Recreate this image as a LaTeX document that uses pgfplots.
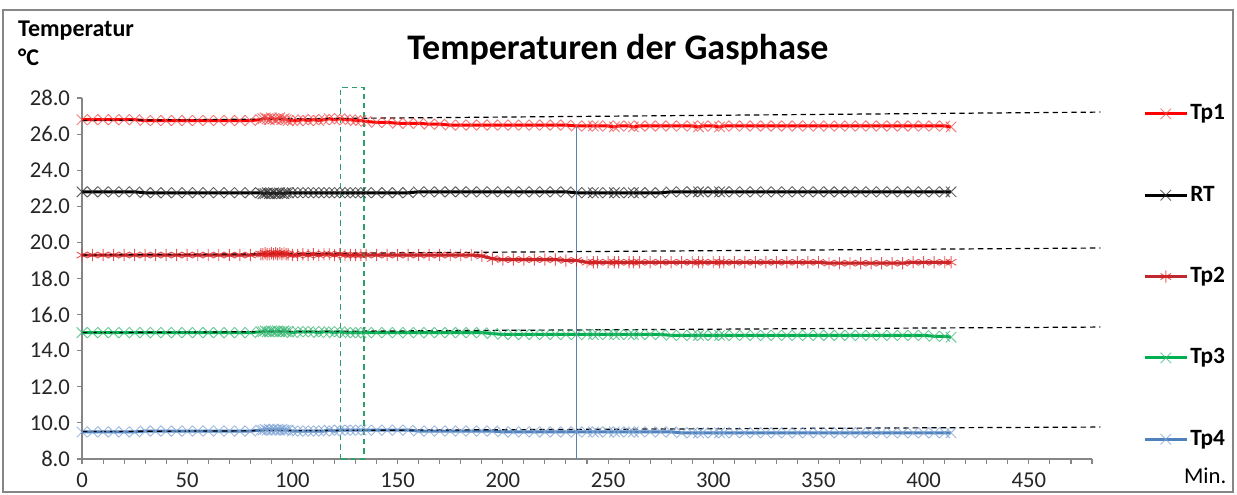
\documentclass[border=0pt]{standalone}
\usepackage{pgfplots}
\pgfplotsset{compat=1.18}
\usepackage{pgfplotstable}
\usepackage{fontspec}
\setmainfont{Carlito}
\usetikzlibrary{plotmarks}

\definecolor{tponeL}{HTML}{FF0000}
\definecolor{tponeM}{HTML}{F05050}
\definecolor{rtL}{HTML}{000000}
\definecolor{rtM}{HTML}{303030}
\definecolor{tptwoL}{HTML}{C0282D}
\definecolor{tptwoM}{HTML}{E02020}
\definecolor{tpthreeL}{HTML}{00B050}
\definecolor{tpthreeM}{HTML}{40B878}
\definecolor{tpfourL}{HTML}{4F81BD}
\definecolor{tpfourM}{HTML}{7FA4D6}
\definecolor{axgray}{HTML}{868686}
\definecolor{rectgreen}{HTML}{2E9E6A}

\pgfplotstableread{
t     tp1    rt     tp2    tp3    tp4
0     26.80  22.80  19.30  15.00  9.50
5     26.80  22.80  19.30  15.00  9.50
10    26.80  22.80  19.30  15.00  9.50
15    26.80  22.80  19.30  15.00  9.50
20    26.80  22.80  19.30  15.00  9.50
25    26.80  22.80  19.30  15.00  9.50
30    26.75  22.75  19.30  15.00  9.55
35    26.75  22.75  19.30  15.00  9.55
40    26.75  22.75  19.30  15.00  9.55
45    26.75  22.75  19.30  15.00  9.55
50    26.75  22.75  19.30  15.00  9.55
55    26.75  22.75  19.30  15.00  9.55
60    26.75  22.75  19.30  15.00  9.55
65    26.75  22.75  19.30  15.00  9.55
70    26.75  22.75  19.30  15.00  9.55
75    26.75  22.75  19.30  15.00  9.55
80    26.75  22.75  19.30  15.00  9.55
85    26.80  22.75  19.35  15.05  9.60
86    26.85  22.70  19.35  15.05  9.60
87    26.90  22.70  19.40  15.10  9.65
88    26.85  22.75  19.35  15.05  9.60
89    26.80  22.70  19.35  15.05  9.65
90    26.90  22.70  19.40  15.10  9.60
91    26.85  22.75  19.35  15.05  9.65
92    26.80  22.70  19.40  15.05  9.60
93    26.85  22.70  19.35  15.10  9.65
94    26.90  22.75  19.40  15.05  9.60
95    26.80  22.70  19.35  15.05  9.65
96    26.85  22.70  19.40  15.10  9.60
97    26.80  22.75  19.35  15.05  9.60
98    26.75  22.75  19.35  15.05  9.60
100   26.75  22.75  19.30  15.00  9.55
102.5 26.75  22.75  19.30  15.05  9.55
105   26.80  22.75  19.35  15.05  9.55
107.5 26.75  22.75  19.30  15.05  9.55
110   26.80  22.75  19.35  15.05  9.55
112.5 26.75  22.75  19.30  15.00  9.55
115   26.80  22.75  19.35  15.05  9.55
117.5 26.85  22.75  19.35  15.05  9.60
120   26.80  22.75  19.30  15.00  9.55
122.5 26.85  22.75  19.35  15.05  9.60
125   26.80  22.75  19.30  15.00  9.60
127.5 26.80  22.75  19.30  15.00  9.60
130   26.75  22.75  19.30  15.00  9.60
132.5 26.75  22.75  19.30  15.00  9.60
135   26.70  22.75  19.30  15.00  9.60
140   26.65  22.75  19.30  15.00  9.60
145   26.65  22.75  19.30  15.00  9.60
150   26.60  22.75  19.30  15.00  9.60
155   26.60  22.75  19.30  15.00  9.60
160   26.60  22.80  19.30  15.00  9.55
165   26.55  22.80  19.30  15.00  9.55
170   26.55  22.80  19.30  15.00  9.55
175   26.50  22.80  19.30  15.00  9.55
180   26.50  22.80  19.30  15.00  9.55
185   26.50  22.80  19.30  15.00  9.55
190   26.50  22.80  19.25  15.00  9.55
195   26.50  22.80  19.10  14.95  9.55
200   26.50  22.80  19.05  14.90  9.50
205   26.50  22.80  19.05  14.90  9.50
210   26.50  22.80  19.05  14.90  9.50
215   26.50  22.80  19.05  14.90  9.50
220   26.50  22.80  19.05  14.90  9.50
225   26.50  22.80  19.05  14.90  9.50
230   26.50  22.80  19.00  14.90  9.50
235   26.45  22.75  19.00  14.90  9.50
240   26.45  22.75  18.90  14.90  9.50
243   26.45  22.75  18.90  14.90  9.50
245   26.45  22.75  18.90  14.90  9.50
250   26.45  22.75  18.90  14.90  9.50
253   26.40  22.75  18.90  14.90  9.50
255   26.45  22.75  18.90  14.90  9.50
260   26.45  22.75  18.90  14.90  9.50
262   26.40  22.75  18.90  14.90  9.50
265   26.45  22.75  18.90  14.90  9.50
270   26.45  22.75  18.90  14.90  9.50
275   26.45  22.75  18.90  14.90  9.50
280   26.45  22.80  18.90  14.85  9.50
285   26.45  22.80  18.90  14.85  9.45
290   26.45  22.80  18.90  14.85  9.45
293   26.40  22.80  18.90  14.85  9.45
295   26.45  22.80  18.90  14.85  9.45
300   26.45  22.80  18.90  14.85  9.45
303   26.40  22.80  18.90  14.85  9.45
305   26.45  22.80  18.90  14.85  9.45
310   26.45  22.80  18.90  14.85  9.45
315   26.45  22.80  18.90  14.85  9.45
320   26.45  22.80  18.90  14.85  9.45
325   26.45  22.80  18.90  14.85  9.45
330   26.45  22.80  18.90  14.85  9.45
335   26.45  22.80  18.90  14.85  9.45
340   26.45  22.80  18.90  14.85  9.45
345   26.45  22.80  18.90  14.85  9.45
350   26.45  22.80  18.90  14.85  9.45
355   26.45  22.80  18.85  14.85  9.45
360   26.45  22.80  18.85  14.85  9.45
365   26.45  22.80  18.85  14.85  9.45
370   26.45  22.80  18.85  14.85  9.45
375   26.45  22.80  18.85  14.85  9.45
380   26.45  22.80  18.85  14.85  9.45
385   26.45  22.80  18.85  14.85  9.45
390   26.45  22.80  18.85  14.85  9.45
395   26.45  22.80  18.90  14.85  9.45
400   26.45  22.80  18.90  14.85  9.45
405   26.45  22.80  18.90  14.80  9.45
410   26.45  22.80  18.90  14.80  9.45
413   26.40  22.80  18.90  14.75  9.45
}\datatable

\begin{document}
\begin{tikzpicture}
\begin{axis}[
  at={(0,0)}, anchor=south west,
  width=757.5pt, height=270.75pt, scale only axis,
  xmin=0, xmax=480, ymin=8, ymax=28,
  clip=false,
  axis x line*=bottom, axis y line*=left,
  axis line style={draw=axgray, line width=0.8pt, -},
  xtick={0,50,...,450},
  minor xtick={10,20,...,480},
  ytick={8,10,...,28},
  tick align=outside,
  major tick length=3.5pt, minor tick length=3.5pt,
  tick style={draw=axgray, line width=0.8pt},
  yticklabel style={/pgf/number format/fixed, /pgf/number format/fixed zerofill, /pgf/number format/precision=1, xshift=-2pt},
  /pgf/number format/assume math mode=true,
  ticklabel style={font=\fontsize{17}{19}\selectfont, color=black!85},
  xticklabel style={yshift=-3pt},
  legend style={draw=none, fill=none, inner sep=0pt,
    at={(1.0505,0.99)}, anchor=north west,
    font=\fontsize{17.5}{20}\selectfont\bfseries,
    row sep=43pt,
    nodes={inner sep=1.5pt, text height=12pt, text depth=3pt}},
  legend cell align=left,
  legend image code/.code={\draw[mark repeat=2,mark phase=2,#1] plot coordinates {(0pt,0pt) (15.75pt,0pt) (31.5pt,0pt)};},
]
\addplot[color=tponeL, line width=2.25pt, mark=x, mark size=5.6pt, mark options={draw=tponeM, line width=0.7pt, opacity=0.75}] table[x=t, y=tp1] {\datatable};
\addlegendentry{Tp1}
\addplot[color=rtL, line width=2.25pt, mark=x, mark size=5.6pt, mark options={draw=rtM, line width=0.7pt, opacity=0.75}] table[x=t, y=rt] {\datatable};
\addlegendentry{RT}
\addplot[color=tptwoL, line width=2.25pt, mark=asterisk, mark size=4.6pt, mark options={draw=tptwoM, line width=0.7pt, opacity=0.75}] table[x=t, y=tp2] {\datatable};
\addlegendentry{Tp2}
\addplot[color=tpthreeL, line width=2.25pt, mark=x, mark size=5.6pt, mark options={draw=tpthreeM, line width=0.7pt, opacity=0.75}] table[x=t, y=tp3] {\datatable};
\addlegendentry{Tp3}
\addplot[color=tpfourL, line width=2.25pt, mark=x, mark size=5.6pt, mark options={draw=tpfourM, line width=0.7pt, opacity=0.75}] table[x=t, y=tp4] {\datatable};
\addlegendentry{Tp4}

% dashed reference lines
\addplot[forget plot, black, line width=0.9pt, dash pattern=on 4pt off 3pt] coordinates {(0,26.75) (484,27.22)};
\addplot[forget plot, black, line width=0.9pt, dash pattern=on 4pt off 3pt] coordinates {(0,19.30) (484,19.69)};
\addplot[forget plot, black, line width=0.9pt, dash pattern=on 4pt off 3pt] coordinates {(0,15.00) (484,15.31)};
\addplot[forget plot, black, line width=0.9pt, dash pattern=on 4pt off 3pt] coordinates {(0,9.52) (484,9.77)};

% vertical marker line
\addplot[forget plot, color=tpfourL!75!gray, line width=1.3pt] coordinates {(235,8) (235,26.5)};
% dashed green box
\addplot[forget plot, color=rectgreen, line width=0.9pt, dash pattern=on 4pt off 3pt] coordinates {(123,8) (123,28.6) (134,28.6) (134,8) (123,8)};

\node[anchor=center, font=\fontsize{27}{30}\selectfont\bfseries] at (axis description cs:0.5307,1.133) {Temperaturen der Gasphase};
\node[anchor=west, font=\fontsize{18}{20}\selectfont\bfseries, inner sep=0pt] at (axis description cs:-0.0634,1.188) {Temperatur};
\node[anchor=west, font=\fontsize{18}{20}\selectfont\bfseries, inner sep=0pt] at (axis description cs:-0.0634,1.1136) {°C};
\node[anchor=center, font=\fontsize{17}{19}\selectfont, inner sep=0pt] at (axis description cs:1.112,-0.047) {Min.};
\end{axis}
\draw[axgray, line width=0.8pt] (-59.25pt,-24.75pt) rectangle (863.25pt,336.75pt);
\path[use as bounding box] (-61.5pt,-26.25pt) rectangle (866.25pt,344.25pt);
\end{tikzpicture}
\end{document}
